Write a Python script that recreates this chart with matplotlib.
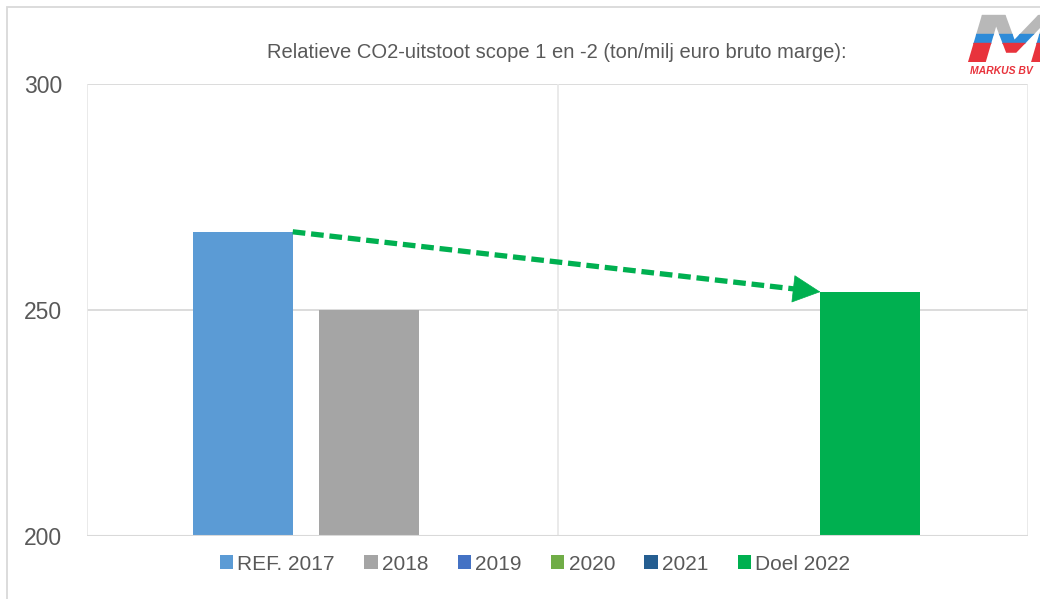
import matplotlib
matplotlib.use("Agg")
import matplotlib.pyplot as plt
import numpy as np
from matplotlib.patches import Rectangle, PathPatch
from matplotlib.textpath import TextPath
from matplotlib.font_manager import FontProperties
from matplotlib.transforms import Affine2D

plt.rcParams['font.family'] = ['Liberation Sans', 'DejaVu Sans']

# data
series = ["REF. 2017", "2018", "2019", "2020", "2021", "Doel 2022"]
values = [267.3, 250.0, None, None, None, 254.0]
colors = ["#5B9BD5", "#A5A5A5", "#4472C4", "#70AD47", "#255E91", "#00B050"]
title = "Relatieve CO2-uitstoot scope 1 en -2 (ton/milj euro bruto marge):"
yticks = [200, 250, 300]

# layout: where each series sits on the 0..2 category axis
bar_pos = [0.331, 0.600, 0.869, 1.131, 1.398, 1.665]
bar_w = 0.2125

fig = plt.figure(figsize=(10.4, 5.99), dpi=100)
ax = fig.add_axes([87/1040, 1-536/599, (1028-87)/1040, (536-84)/599])

for name, v, c, x in zip(series, values, colors, bar_pos):
    h = v if v is not None else 0
    ax.bar(x, h, width=bar_w, color=c, label=name, zorder=2)

ax.set_ylim(200, 300)
ax.set_xlim(0, 2)
ax.set_yticks(yticks)
ax.set_xticks([])
ax.tick_params(axis='y', length=0, pad=18, labelsize=16.5, labelcolor="#595959")
for s in ax.spines.values():
    s.set_visible(False)
for y in yticks[1:]:
    ax.axhline(y, color="#D9D9D9", lw=1.3, zorder=1)
ax.axhline(200, color="#D9D9D9", lw=1.5, zorder=3)
for x in [0, 1, 2]:
    ax.axvline(x, color="#E8E8E8", lw=1.3, zorder=1)

# dashed trend arrow from REF top to Doel top
x0 = bar_pos[0] + bar_w/2
x1 = bar_pos[5] - bar_w/2
y0, y1 = values[0], values[5]
t = 0.96
xm, ym = x0 + t*(x1-x0), y0 + t*(y1-y0)
ax.plot([x0, xm], [y0, ym], color="#00B050", lw=3.8, linestyle=(0, (2.4, 1.1)),
        dash_capstyle='butt', zorder=4)
ax.annotate("", xy=(x1, y1), xytext=(xm, ym),
            arrowprops=dict(arrowstyle="-|>,head_length=1.0,head_width=0.5",
                            mutation_scale=19, color="#00B050", lw=0.5,
                            shrinkA=0, shrinkB=0), zorder=4)

fig.text(557/1040, 1-52/599, title, ha='center', va='center', fontsize=14.5, color="#595959")

leg = fig.legend(loc='center', bbox_to_anchor=(535/1040, 1-564/599), ncol=6, frameon=False,
                 fontsize=15, handlelength=0.65, handleheight=0.65, handletextpad=0.2,
                 columnspacing=1.4, labelcolor="#595959")

# chart border
fig.patches.append(Rectangle((7/1040, -0.1), 1.2, 1-7/599+0.1, transform=fig.transFigure,
                             fill=False, edgecolor="#D9D9D9", lw=1.3))

# logo
fp = FontProperties(family="DejaVu Sans", weight="bold", style="italic")
tp = TextPath((0, 0), "M", size=60, prop=fp)
bb = tp.get_extents()
tp2 = Affine2D().scale(95/bb.width, 48/bb.height).transform_path(tp)
b2 = tp2.get_extents()
tp3 = Affine2D().translate(968 - b2.x0, (599-62) - b2.y0).transform_path(tp2)
clip = PathPatch(tp3, transform=None, fc='none', ec='none')
fig.patches.append(clip)
for y_top, y_bot, col in [(15, 34, "#B8B8B8"), (34, 43, "#2E8BD8"), (43, 62, "#E8333C")]:
    r = Rectangle((960, 599-y_bot), 120, y_bot-y_top, transform=None, color=col)
    r.set_clip_path(clip)
    fig.patches.append(r)
fig.text(1001/1040, 1-71/599, "MARKUS BV", ha='center', va='center', fontsize=7.5,
         color="#E8333C", fontweight='bold', style='italic')

fig.savefig("out.png", dpi=100)
